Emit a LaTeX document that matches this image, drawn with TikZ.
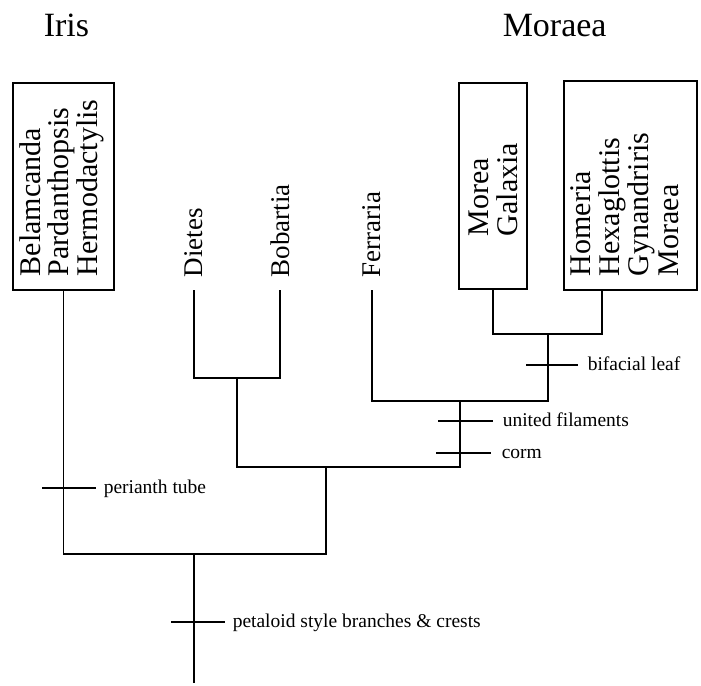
\documentclass[tikz,border=0pt]{standalone}
\usepackage{fontspec}
\setmainfont{Liberation Serif}
\begin{document}
\begin{tikzpicture}[x=1pt,y=-1pt,line width=1.5pt,
  title/.style={font=\fontsize{34}{40}\selectfont, inner sep=0pt, anchor=base west},
  taxon/.style={font=\fontsize{27}{29}\selectfont, rotate=90, inner xsep=12pt, inner ysep=0pt, anchor=west},
  boxtext/.style={font=\fontsize{30}{29}\selectfont, rotate=90, inner sep=0pt, anchor=base west},
  genbox/.style={draw, line width=1.5pt, inner sep=0pt},
  lbl/.style={font=\fontsize{19.5}{22}\selectfont, inner sep=0pt, anchor=base west},
  tick/.style={line width=1.5pt}]
\useasboundingbox (0,0) rectangle (701,685);
% titles
\node[title] (iris) at (43,37) {Iris};
\node[title] (moraea) at (502,37) {Moraea};
% boxes
\node[genbox, minimum width=101pt, minimum height=207pt] (box1) at (63.5,186.5) {};
\node[genbox, minimum width=68pt, minimum height=206pt] (box2) at (493,186) {};
\node[genbox, minimum width=133pt, minimum height=209pt] (box3) at (630.5,185.5) {};
% box texts
\node[boxtext] (bel) at (40,277) {Belamcanda};
\node[boxtext] (par) at (68.5,277) {Pardanthopsis};
\node[boxtext] (her) at (97,277) {Hermodactylis};
\node[boxtext] (mor) at (488,237) {Morea};
\node[boxtext] (gal) at (517,237) {Galaxia};
\node[boxtext] (hom) at (590,277) {Homeria};
\node[boxtext] (hex) at (619,277) {Hexaglottis};
\node[boxtext] (gyn) at (648.5,277) {Gynandriris};
\node[boxtext] (mrc) at (678,277) {Moraea};
% single taxa
\node[taxon] (dietes) at (194,290) {Dietes};
\node[taxon] (bobartia) at (280,290) {Bobartia};
\node[taxon] (ferraria) at (372,290) {Ferraria};
% junctions
\coordinate (root) at (194,683);
\coordinate (c0) at (194,554);
\coordinate (c1) at (326,467);
\coordinate (cDB) at (237,378);
\coordinate (cFM) at (460,401);
\coordinate (cM) at (548,334);
\coordinate (b3) at (602,290);
% tree
\draw (c0) -- (root);
\draw (box1.south) |- (c0) -| (c1);
\draw (cDB) |- (c1) -| (cFM);
\draw (dietes.west) |- (cDB) -| (bobartia.west);
\draw (ferraria.west) |- (cFM) -| (cM);
\draw (box2.south) |- (cM) -| (b3);
% character ticks
\coordinate (t1a) at (526,365); \coordinate (t1b) at (578,365);
\coordinate (t2a) at (438,421); \coordinate (t2b) at (493,421);
\coordinate (t3a) at (436,453); \coordinate (t3b) at (491,453);
\coordinate (t4a) at (42,488);  \coordinate (t4b) at (96,488);
\coordinate (t5a) at (171,622); \coordinate (t5b) at (225,622);
\draw[tick] (t1a) -- (t1b);
\draw[tick] (t2a) -- (t2b);
\draw[tick] (t3a) -- (t3b);
\draw[tick] (t4a) -- (t4b);
\draw[tick] (t5a) -- (t5b);
\node[lbl] (l1) at (587,370.5) {bifacial leaf};
\node[lbl] (l2) at (502,426.5) {united filaments};
\node[lbl] (l3) at (501,458.5) {corm};
\node[lbl] (l4) at (103,493.5) {perianth tube};
\node[lbl] (l5) at (232,627.5) {petaloid style branches \& crests};
\end{tikzpicture}
\end{document}
